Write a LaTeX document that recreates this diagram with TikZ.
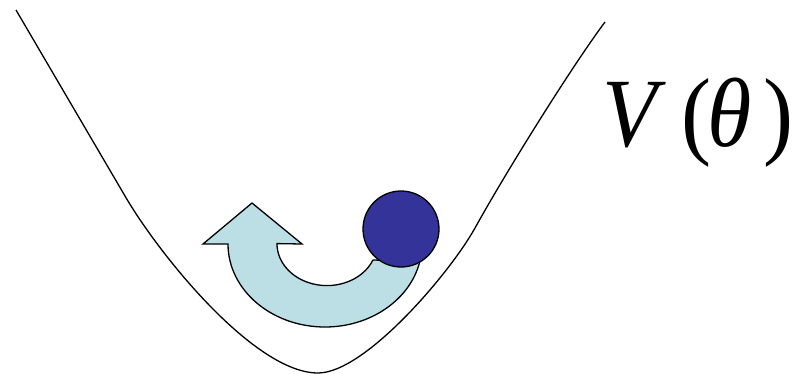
\documentclass[tikz,border=0pt]{standalone}
\usepackage{graphicx}
\usepackage{fontspec}
\setmainfont{Liberation Serif}
\begin{document}
\begin{tikzpicture}[x=1pt,y=-1pt,
  potential/.style={line width=1.3pt},
  arrowshape/.style={draw=black,line width=1.3pt,fill=arrowblue,line join=miter},
  ball/.style={circle,draw=black,line width=1.3pt,fill=ballblue,minimum size=76pt,inner sep=0pt},
  label/.style={font=\fontsize{98}{100}\selectfont,inner sep=0pt,anchor=base west}]
\definecolor{arrowblue}{HTML}{BBDFE4}
\definecolor{ballblue}{HTML}{333399}
\useasboundingbox (0,0) rectangle (794,374);
\draw[potential] (16,10) -- (125,196)
  .. controls (160,256) and (255,373) .. (318,373)
  .. controls (365,373) and (450,273) .. (475,228)
  .. controls (510,165) and (575,62) .. (605,22);
\draw[arrowshape] (228,244) arc[start angle=180,end angle=12,x radius=97,y radius=83]
  -- (373,260) arc[start angle=23,end angle=180,x radius=50,y radius=42]
  -- (302,244) -- (252,203) -- (203,244) -- cycle;
\node[ball] (b) at (401,229) {};
\node[label] (v) at (602,147) {\scalebox{0.92}[1]{\itshape V\hspace{26pt}\upshape(\hspace{-4pt}\itshape θ\hspace{13pt}\upshape)}};
\end{tikzpicture}
\end{document}
